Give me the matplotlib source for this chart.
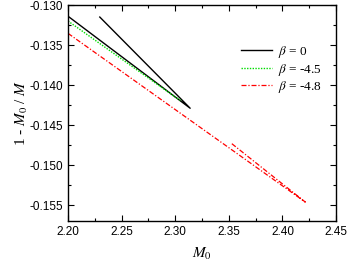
import matplotlib
matplotlib.use('Agg')
import matplotlib.pyplot as plt
from matplotlib.ticker import MultipleLocator

# datos
m0_b0 = [2.200, 2.3139, 2.2296]
y_b0 = [-0.1314, -0.1429, -0.1315]

m0_b45 = [2.200, 2.300, 2.306]
y_b45 = [-0.1320, -0.1415, -0.1420]

m0_b48 = [2.200, 2.4213, 2.352]
y_b48 = [-0.13354, -0.15463, -0.14725]

plt.rcParams['mathtext.fontset'] = 'stix'
plt.rcParams['font.family'] = 'Liberation Sans'

fig = plt.figure(figsize=(3.49, 2.66), dpi=100)
ax = fig.add_axes([0.195, 0.169, 0.768, 0.812])

ax.plot(m0_b0, y_b0, color='black', lw=1.0, label=r'$\beta$ = 0')
ax.plot(m0_b45, y_b45, color='#00dd00', lw=1.0, ls=(0, (1, 1)), label=r'$\beta$ = -4.5')
ax.plot(m0_b48, y_b48, color='red', lw=0.9, ls=(0, (4, 1.5, 1, 1.5)), label=r'$\beta$ = -4.8')

ax.set_xlim(2.20, 2.45)
ax.set_ylim(-0.157, -0.130)
ax.xaxis.set_major_locator(MultipleLocator(0.05))
ax.xaxis.set_minor_locator(MultipleLocator(0.025))
ax.yaxis.set_major_locator(MultipleLocator(0.005))
ax.yaxis.set_minor_locator(MultipleLocator(0.0025))
ax.xaxis.set_major_formatter(plt.FormatStrFormatter('%.2f'))
ax.yaxis.set_major_formatter(plt.FormatStrFormatter('%.3f'))
ax.tick_params(which='both', direction='in', top=True, right=True, labelsize=8.5, width=0.8)
ax.tick_params(which='major', length=4)
ax.tick_params(which='minor', length=2.5)
for s in ax.spines.values():
    s.set_linewidth(1.0)

ax.set_xlabel(r'$M_0$', fontsize=11, labelpad=6)
ax.set_ylabel(r'1 - $M_0$ / $M$', fontsize=11, family='Liberation Serif', labelpad=0)

leg = ax.legend(loc='upper left', bbox_to_anchor=(0.6, 0.875), frameon=False,
                handlelength=2.4, handletextpad=0.4, labelspacing=0.12,
                prop={'family': 'Liberation Serif', 'size': 9.5})

plt.savefig('out.png', dpi=100)
